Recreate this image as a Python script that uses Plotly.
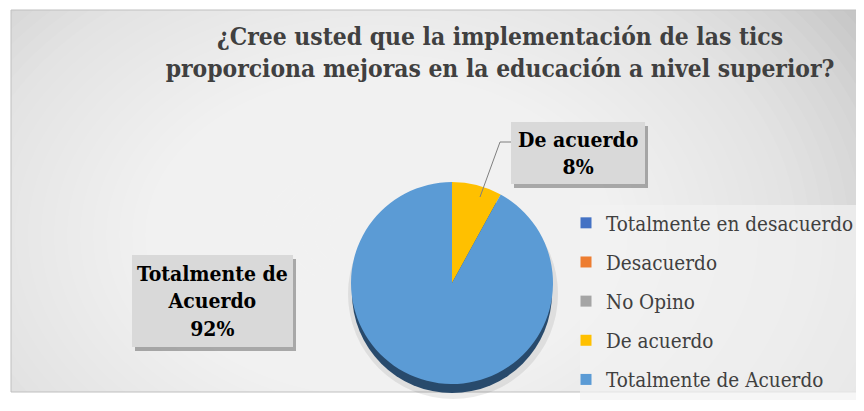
import plotly.graph_objects as go

# Survey answers and their share of responses (%)
categorias = ['Totalmente en desacuerdo', 'Desacuerdo', 'No Opino', 'De acuerdo', 'Totalmente de Acuerdo']
porcentajes = [0, 0, 0, 8, 92]
colores = ['#4472C4', '#ED7D31', '#A5A5A5', '#FFC000', '#5B9BD5']

titulo = '¿Cree usted que la implementación de las tics<br>proporciona mejoras en la educación a nivel superior?'

# the page body has an 8px margin, so the figure is a bit smaller than the window
OFF = 8
W, H = 864 - OFF, 411 - OFF
SERIF = 'DejaVu Serif Condensed, DejaVu Serif'


def px_x(x):
    return (x - OFF) / W


def px_y(y):
    return 1 - (y - OFF) / H


fig = go.Figure()

fig.add_trace(go.Pie(
    labels=categorias,
    values=porcentajes,
    marker=dict(colors=colores, line=dict(width=0)),
    sort=False,
    direction='clockwise',
    rotation=0,
    textinfo='none',
    hoverinfo='label+percent',
    showlegend=False,
    domain=dict(x=[px_x(350), px_x(554)], y=[px_y(384), px_y(182)]),
))

# legend entries (one per answer, so the gap between rows can be set)
for nombre, color in zip(categorias, colores):
    fig.add_trace(go.Scatter(x=[None], y=[None], mode='markers', name=nombre, legendgroup=nombre,
                             marker=dict(symbol='square', size=11, color=color), hoverinfo='skip'))

shapes = []

# Chart area with a fake radial gradient (grey edges, white centre)
shapes.append(dict(type='rect', xref='paper', yref='paper', layer='below',
                   x0=px_x(11), x1=px_x(864), y0=px_y(392), y1=px_y(10),
                   fillcolor='#c6c6c6', line=dict(width=0)))
n = 40
for i in range(n):
    rx = 560 - i * 13
    ry = 400 - i * 9.5
    cx, cy = 380, 235
    shapes.append(dict(type='circle', xref='paper', yref='paper', layer='below',
                       x0=px_x(cx - rx), x1=px_x(cx + rx),
                       y0=px_y(cy + ry), y1=px_y(cy - ry),
                       fillcolor='rgba(255,255,255,0.065)', line=dict(width=0)))
# white margin outside the chart area
shapes.append(dict(type='rect', xref='paper', yref='paper', layer='below',
                   x0=0, x1=1, y0=px_y(10), y1=1, fillcolor='white', line=dict(width=0)))
shapes.append(dict(type='rect', xref='paper', yref='paper', layer='below',
                   x0=0, x1=1, y0=0, y1=px_y(392), fillcolor='white', line=dict(width=0)))
shapes.append(dict(type='rect', xref='paper', yref='paper', layer='below',
                   x0=0, x1=px_x(11), y0=0, y1=1, fillcolor='white', line=dict(width=0)))
shapes.append(dict(type='rect', xref='paper', yref='paper', layer='below',
                   x0=px_x(11), x1=px_x(864), y0=px_y(392), y1=px_y(10),
                   fillcolor='rgba(0,0,0,0)', line=dict(color='#bfbfbf', width=1)))

# Pie depth (side of the 3D disc)
shapes.append(dict(type='circle', xref='paper', yref='paper', layer='below',
                   x0=px_x(348), x1=px_x(558), y0=px_y(399), y1=px_y(189),
                   fillcolor='rgba(0,0,0,0.08)', line=dict(width=0)))
shapes.append(dict(type='circle', xref='paper', yref='paper', layer='below',
                   x0=px_x(352), x1=px_x(552), y0=px_y(393), y1=px_y(193),
                   fillcolor='#284a6c', line=dict(width=0)))

# Legend panel
shapes.append(dict(type='rect', xref='paper', yref='paper', layer='below',
                   x0=px_x(580), x1=px_x(864), y0=px_y(400), y1=px_y(205),
                   fillcolor='rgba(242,242,242,0.7)', line=dict(width=0)))

# Data label boxes with shadows
for (x0, y0, x1, y1) in [(511, 122, 645, 184), (132, 255, 293, 347)]:
    shapes.append(dict(type='rect', xref='paper', yref='paper',
                       x0=px_x(x0 + 3), x1=px_x(x1 + 3), y0=px_y(y1 + 4), y1=px_y(y0 + 4),
                       fillcolor='rgba(0,0,0,0.3)', line=dict(width=0)))
    shapes.append(dict(type='rect', xref='paper', yref='paper',
                       x0=px_x(x0), x1=px_x(x1), y0=px_y(y1), y1=px_y(y0),
                       fillcolor='#d9d9d9', line=dict(width=0)))

# Leader line for the small slice
shapes.append(dict(type='path', xref='paper', yref='paper',
                   path='M {} {} L {} {} L {} {}'.format(px_x(480), px_y(197), px_x(500), px_y(142),
                                                         px_x(511), px_y(142)),
                   line=dict(color='#7f7f7f', width=1)))

etiqueta_font = dict(family=SERIF, size=21, color='#000000')
annotations = [
    dict(xref='paper', yref='paper', x=px_x(578), y=px_y(153), xanchor='center', yanchor='middle',
         text='<b>{}<br>{}%</b>'.format(categorias[3], porcentajes[3]), showarrow=False, font=etiqueta_font),
    dict(xref='paper', yref='paper', x=px_x(212), y=px_y(301), xanchor='center', yanchor='middle',
         text='<b>Totalmente de<br>Acuerdo<br>{}%</b>'.format(porcentajes[4]), showarrow=False,
         font=etiqueta_font),
]

fig.update_layout(
    width=W,
    height=H,
    margin=dict(l=0, r=0, t=0, b=0, autoexpand=False),
    paper_bgcolor='white',
    plot_bgcolor='rgba(0,0,0,0)',
    xaxis=dict(visible=False),
    yaxis=dict(visible=False),
    title=dict(text='<b>' + titulo + '</b>', x=px_x(500), xanchor='center', y=px_y(45), yanchor='top',
               font=dict(family=SERIF, size=24.4, color='#404040')),
    legend=dict(x=px_x(566), y=px_y(203), xanchor='left', yanchor='top', bgcolor='rgba(0,0,0,0)',
                font=dict(family=SERIF, size=20.5, color='#404040'),
                traceorder='grouped', tracegroupgap=9.5),
    shapes=shapes,
    annotations=annotations,
)

fig.write_html('out.html')
